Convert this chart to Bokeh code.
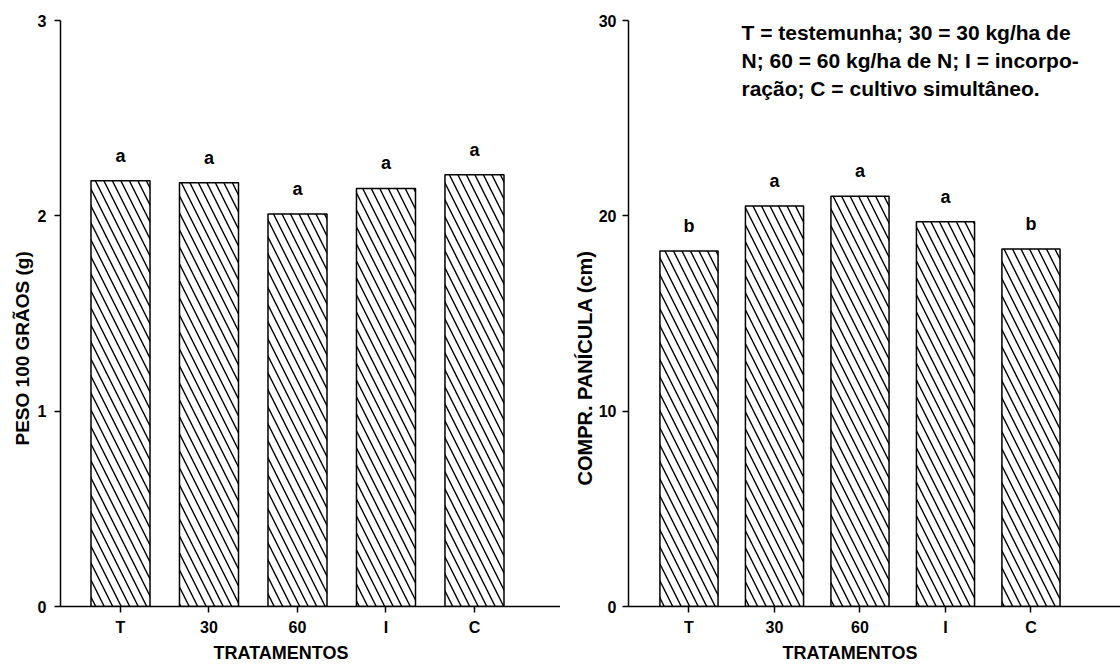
from bokeh.plotting import figure
from bokeh.layouts import row
from bokeh.models import Range1d, FixedTicker, Label, ColumnDataSource, Title
from bokeh.core.properties import value
from bokeh.embed import file_html
from bokeh.resources import INLINE

# ---- data ----
categories = ["T", "30", "60", "I", "C"]
peso = [2.18, 2.17, 2.01, 2.14, 2.21]
peso_letters = ["a", "a", "a", "a", "a"]
comp = [18.2, 20.5, 21.0, 19.7, 18.3]
comp_letters = ["b", "a", "a", "a", "b"]
peso_ticks = [0, 1, 2, 3]
comp_ticks = [0, 10, 20, 30]
peso_title = "PESO 100 GRÃOS (g)"
comp_title = "COMPR. PANÍCULA (cm)"
x_title = "TRATAMENTOS"
note_lines = ["T = testemunha; 30 = 30 kg/ha de",
              "N; 60 = 60 kg/ha de N; I = incorpo-",
              "ração; C = cultivo simultâneo."]

FONT = "Liberation Sans"


def panel(width, border_left, xs, xe, ymax, ticks, vals, letters,
          bar_w, ytitle, y_off, y_standoff, y_size, x_off, tick_standoff):
    p = figure(width=width, height=665, x_range=Range1d(xs, xe),
               y_range=Range1d(0, ymax), output_backend="svg",
               toolbar_location=None, min_border_left=border_left,
               min_border_right=0, min_border_top=20,
               min_border_bottom=59)
    p.xgrid.visible = False
    p.ygrid.visible = False
    p.outline_line_color = None
    p.background_fill_color = "white"
    p.border_fill_color = "white"

    xpos = list(range(1, len(categories) + 1))
    src = ColumnDataSource(dict(x=xpos, top=vals, lab=letters, cat=categories))
    p.vbar(x="x", top="top", bottom=0, width=bar_w, source=src,
           fill_color="white", line_color="black", line_width=1.5,
           hatch_pattern="left_diagonal_line", hatch_color="black",
           hatch_weight=1.4, hatch_scale=17)
    p.text(x="x", y="top", text="lab", source=src, y_offset=-25,
           text_align="center", text_baseline="middle",
           text_font=value(FONT), text_font_style="bold",
           text_font_size="18px", text_color="black")

    for ax in (p.xaxis[0], p.yaxis[0]):
        ax.axis_line_color = "black"
        ax.axis_line_width = 1.5
        ax.major_tick_line_color = "black"
        ax.major_tick_line_width = 1.5
        ax.major_tick_in = 0
        ax.major_tick_out = 6
        ax.minor_tick_line_color = None
        ax.major_label_text_font = FONT
        ax.major_label_text_font_style = "bold"
        ax.major_label_text_font_size = "16px"
        ax.major_label_text_color = "black"

    p.xaxis.ticker = FixedTicker(ticks=xpos)
    p.xaxis.major_label_overrides = {i: c for i, c in zip(xpos, categories)}
    p.xaxis.major_label_standoff = 6
    p.yaxis.ticker = FixedTicker(ticks=ticks)
    p.yaxis.major_label_standoff = tick_standoff

    p.add_layout(Title(text=ytitle, align="left", offset=y_off, standoff=y_standoff,
                       text_font=FONT, text_font_style="bold",
                       text_font_size=y_size, text_color="black"), "left")
    p.add_layout(Title(text=x_title, align="left", offset=x_off, standoff=4,
                       text_font=FONT, text_font_style="bold",
                       text_font_size="18px", text_color="black"), "below")
    return p


p1 = panel(560, 60, 0.322, 5.972, 3, peso_ticks, peso, peso_letters, 0.667,
           peso_title, 161, 4, "19px", 153, 8)
p2 = panel(560, 68, 0.2924, 6.047, 30, comp_ticks, comp, comp_letters, 0.68,
           comp_title, 121, 0, "20px", 154, 6)

for line, yy in zip(note_lines, [574, 546, 518]):
    p2.add_layout(Label(x=113, y=yy, x_units="screen", y_units="screen",
                        text=line, text_align="left", text_baseline="alphabetic",
                        text_font=FONT, text_font_style="bold",
                        text_font_size="21px", text_color="black"))

layout = row(p1, p2)
open("out.html", "w").write(file_html(layout, INLINE))
